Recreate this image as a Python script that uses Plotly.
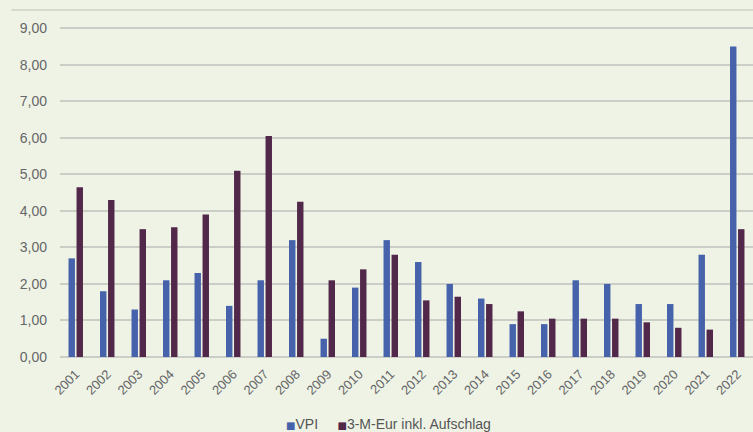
import plotly.graph_objects as go

years = [str(y) for y in range(2001, 2023)]
vpi = [2.7, 1.8, 1.3, 2.1, 2.3, 1.4, 2.1, 3.2, 0.5, 1.9, 3.2,
       2.6, 2.0, 1.6, 0.9, 0.9, 2.1, 2.0, 1.45, 1.45, 2.8, 8.5]
euribor = [4.65, 4.3, 3.5, 3.55, 3.9, 5.1, 6.05, 4.25, 2.1, 2.4, 2.8,
           1.55, 1.65, 1.45, 1.25, 1.05, 1.05, 1.05, 0.95, 0.8, 0.75, 3.5]
y_ticks = [0, 1, 2, 3, 4, 5, 6, 7, 8, 9]
y_tick_labels = ["0,00", "1,00", "2,00", "3,00", "4,00", "5,00",
                 "6,00", "7,00", "8,00", "9,00"]
series_names = ["VPI", "3-M-Eur inkl. Aufschlag"]
series_colors = ["#4662ab", "#52284a"]

fig = go.Figure()
fig.add_trace(go.Bar(x=years, y=vpi, name=series_names[0],
                     marker_color=series_colors[0], marker_line_width=0))
fig.add_trace(go.Bar(x=years, y=euribor, name=series_names[1],
                     marker_color=series_colors[1], marker_line_width=0))

fig.update_layout(
    width=753, height=432,
    margin=dict(l=60, r=0, t=10, b=75),
    paper_bgcolor="#eef3e6",
    plot_bgcolor="rgba(0,0,0,0)",
    barmode="group",
    bargap=0.49,
    bargroupgap=0.2,
    font=dict(family="Liberation Sans, Arial, sans-serif", color="#666666"),
    showlegend=False,
    xaxis=dict(tickangle=-45, tickfont=dict(size=13), showgrid=False,
               showline=False, ticks="", ticklabelstandoff=6),
    yaxis=dict(range=[0, 9.5], tickvals=y_ticks, ticktext=y_tick_labels,
               tickfont=dict(size=14), gridcolor="#cbcec6", gridwidth=2,
               zeroline=True, zerolinecolor="#cbcec6", zerolinewidth=2,
               ticklabelstandoff=12, showline=False),
)

# compact legend row below the axis: small coloured squares + series names
legend_html = "&nbsp;&nbsp;&nbsp;&nbsp;&nbsp;".join(
    f'<span style="color:{c}; font-size:10px; font-family:DejaVu Sans">■</span>{n}'
    for n, c in zip(series_names, series_colors)
)
fig.add_annotation(text=legend_html, xref="paper", yref="paper",
                   x=(388 - 60) / 693, y=-(424 - 357) / 347,
                   xanchor="center", yanchor="middle", showarrow=False,
                   font=dict(size=14, color="#555555"))

# thin frame line along the top of the chart area
fig.add_shape(type="line", xref="paper", yref="paper", x0=-0.07, x1=1,
              y0=1, y1=1, line=dict(color="#d5d9cf", width=2))

fig.write_html("out.html")
